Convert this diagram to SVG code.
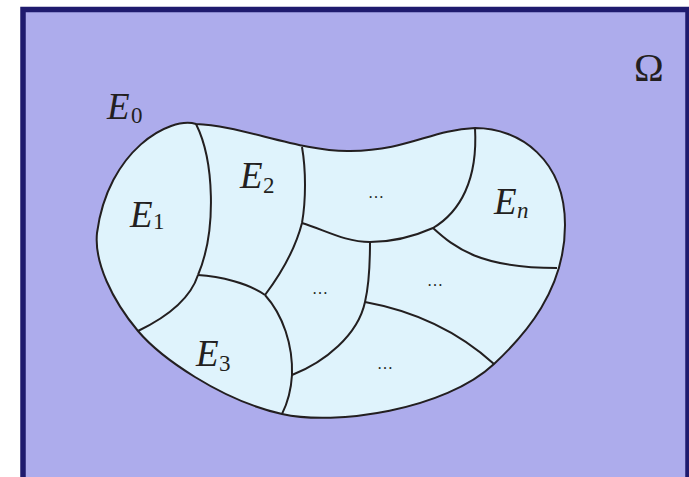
<svg xmlns="http://www.w3.org/2000/svg" width="689" height="477" viewBox="0 0 689 477">
  <style>
    .edge { fill: none; stroke: #231f20; stroke-width: 2; stroke-linejoin: round; }
    .lbl { font-family: "Liberation Serif", "Times New Roman", serif; fill: #231f20; }
    .E { font-style: italic; font-size: 37px; }
    .sub { font-style: normal; font-size: 23px; }
    .dots { font-size: 16px; text-anchor: middle; }
  </style>
  <rect id="background" x="0" y="0" width="689" height="477" fill="#ffffff"/>
  <g id="omega-box">
    <rect x="23" y="9.5" width="665" height="480" fill="#adacec" stroke="#1f1b6e" stroke-width="5.5"/>
    <text class="lbl" x="634" y="81" font-size="40">Ω</text>
  </g>
  <g id="domain-E0">
    <path class="edge" style="fill:#dff3fc" d="M196,124 C170,116 108,150 97,233 C94,262 112,300 138,331 C160,357 220,400 282,414 C335,426 445,410 494,364 C525,335 565,290 565,225 C565,160 520,128 475,128 C430,130 410,150 350,151 C300,152 240,125 196,124 Z"/>
    <text class="lbl E" x="107" y="119">E<tspan class="sub" x="131" y="123">0</tspan></text>
  </g>
  <g id="connectors">
    <path class="edge" d="M196,124 C214,160 217,230 198,275"/>
    <path class="edge" d="M198,275 C190,300 165,318 138,331"/>
    <path class="edge" d="M198,275 C220,276 250,284 265,295"/>
    <path class="edge" d="M302,147 C306,170 306,200 302,223 C295,250 280,275 265,295"/>
    <path class="edge" d="M265,295 C283,315 293,345 292,375 C291,392 287,404 282,414"/>
    <path class="edge" d="M302,223 C325,230 345,242 370,242 C395,242 415,236 433,228 C460,212 478,180 475,128"/>
    <path class="edge" d="M370,242 C370,265 369,285 365,302 C358,335 325,362 292,375"/>
    <path class="edge" d="M365,302 C420,312 462,335 494,364"/>
    <path class="edge" d="M433,228 C455,248 480,268 557,268"/>
  </g>
  <g id="E1"><text class="lbl E" x="130" y="227">E<tspan class="sub" x="153" y="229">1</tspan></text></g>
  <g id="E2"><text class="lbl E" x="240" y="188">E<tspan class="sub" x="263" y="193">2</tspan></text></g>
  <g id="E3"><text class="lbl E" x="196" y="366">E<tspan class="sub" x="219" y="371">3</tspan></text></g>
  <g id="En"><text class="lbl E" x="494" y="214">E<tspan class="sub" style="font-style:italic" x="517" y="218">n</tspan></text></g>
  <g id="cell-a"><text class="lbl dots" x="376" y="198">…</text></g>
  <g id="cell-b"><text class="lbl dots" x="320" y="294">…</text></g>
  <g id="cell-c"><text class="lbl dots" x="435" y="286">…</text></g>
  <g id="cell-d"><text class="lbl dots" x="385" y="369">…</text></g>
</svg>
